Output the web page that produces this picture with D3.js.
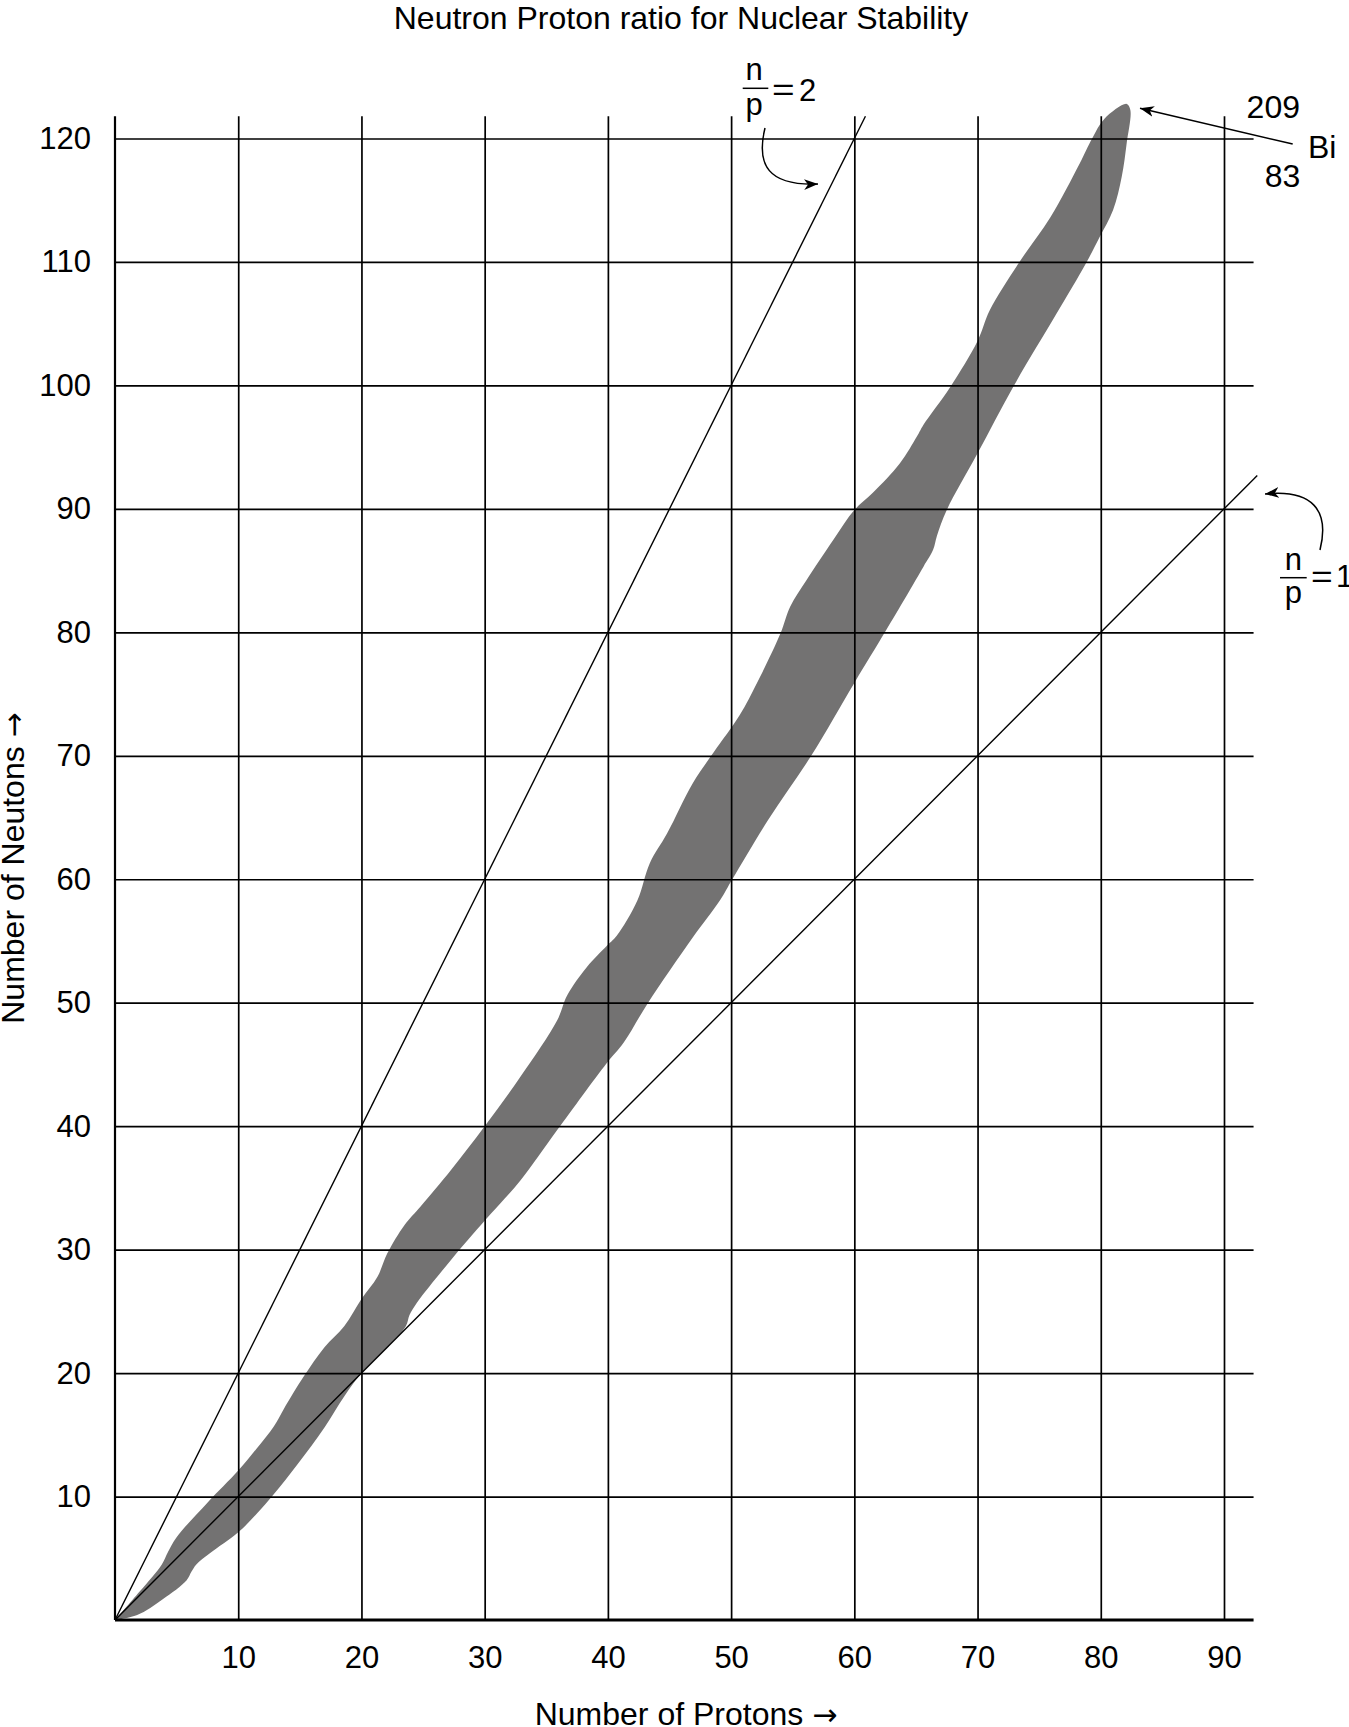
<!DOCTYPE html>
<html>
<head>
<meta charset="utf-8">
<script src="https://cdn.jsdelivr.net/npm/d3@7"></script>
<style>
  html, body { margin: 0; padding: 0; background: #fff; }
  svg { display: block; }
  text { font-family: "Liberation Sans", Arial, Helvetica, sans-serif; fill: #000; }
</style>
</head>
<body>
<script>
// ---------- data ----------
const title = "Neutron Proton ratio for Nuclear Stability";
const xLabel = "Number of Protons";
const yLabel = "Number of Neutons";
const arrowGlyph = "\u2192";
const xTicks = [10, 20, 30, 40, 50, 60, 70, 80, 90];
const yTicks = [10, 20, 30, 40, 50, 60, 70, 80, 90, 100, 110, 120];

// band of stability: neutron-rich (upper) edge, [protons, neutrons]
const bandUpper = [
  [0, 0], [2, 2.3], [3.8, 4.5], [4.3, 5.5], [5, 6.7], [7.5, 9.5], [10, 12.1],
  [11.5, 13.9], [12.9, 15.7], [13.7, 17.1], [15.3, 19.7], [17, 22.1], [18.6, 23.8],
  [20, 26.0], [21.3, 27.8], [22.1, 29.7], [23.5, 32.0], [24.8, 33.5], [27.3, 36.5],
  [30, 40], [32.9, 44], [35.9, 48.6], [36.7, 50.6], [38.3, 52.9], [39.9, 54.6],
  [40.7, 55.4], [42.4, 58.3], [43.4, 61.3], [44.8, 63.7], [46.9, 67.8], [48.6, 70.3],
  [50.7, 73.3], [52.1, 75.9], [54, 79.9], [54.8, 82.1], [56.1, 84.2], [58.3, 87.5],
  [60, 89.9], [61.5, 91.3], [63.7, 93.7], [65.1, 95.9], [65.6, 96.8], [67.8, 99.9],
  [70, 103.6], [71, 106.1], [73.4, 110], [75.9, 113.6], [78.3, 118], [79.3, 120],
  [80.3, 121.6], [82.1, 122.8]
];
// band of stability: proton-rich (lower) edge, [protons, neutrons]
const bandLower = [
  [0, 0], [1.8, 0.4], [3.9, 1.7], [5.8, 3.2], [6.2, 3.9], [6.6, 4.5], [7.7, 5.4],
  [10, 7.1], [11.5, 8.6], [12.9, 10.2], [14.8, 12.6], [17, 15.6], [18.6, 18.1],
  [20, 20], [22, 22], [23.6, 23.8], [23.9, 24.7], [24.5, 25.7], [25.5, 27],
  [27.3, 29.2], [29, 31.2], [30.5, 32.9], [32.9, 35.6], [35.9, 39.7], [39.9, 45.1],
  [41.3, 46.8], [43.2, 49.9], [46.9, 55.3], [49.1, 58.3], [50.1, 60], [53, 64.8],
  [56.5, 70], [60, 75.9], [62.6, 80.2], [65.6, 85.3], [66.4, 86.7], [66.7, 87.8],
  [67.5, 89.9], [70, 94.5], [72.9, 99.9], [76.4, 105.8], [78.8, 109.9], [79.9, 112],
  [81, 114.2], [81.7, 116.9], [82.1, 119.6], [82.4, 122.3]
];

// reference ratio lines n/p, drawn from the origin to these proton counts
const ratioLines = [
  { ratio: 2, pEnd: 60.9 },
  { ratio: 1, pEnd: 92.7 }
];

// ---------- layout ----------
const W = 1349, H = 1727;
const x = d3.scaleLinear().domain([0, 90]).range([115, 1224]);
const y = d3.scaleLinear().domain([0, 120]).range([1620, 138.5]);
const xMax = 92.4;   // extent of horizontal rules
const yMax = 121.8;  // extent of vertical rules

const svg = d3.select("body").append("svg").attr("width", W).attr("height", H);

// band
const bandPts = bandUpper.concat(bandLower.slice().reverse());
const bandLine = d3.line().x(d => x(d[0])).y(d => y(d[1])).curve(d3.curveCatmullRom.alpha(0.5));
svg.append("path").attr("d", bandLine(bandPts) + "Z").attr("fill", "#737272").attr("stroke", "none");

// grid via axes
const gx = svg.append("g").attr("transform", `translate(0,${y(0)})`)
  .call(d3.axisBottom(x).tickValues(xTicks).tickSize(-(y(0) - y(yMax))).tickPadding(26).tickFormat(d3.format("d")));
const gy = svg.append("g").attr("transform", `translate(${x(0)},0)`)
  .call(d3.axisLeft(y).tickValues(yTicks).tickSize(-(x(xMax) - x(0))).tickPadding(24).tickFormat(d3.format("d")));
[gx, gy].forEach(g => {
  g.select(".domain").remove();
  g.selectAll(".tick line").attr("stroke", "#000").attr("stroke-width", 1.7);
  g.selectAll(".tick text").attr("font-size", 31).attr("font-family", "Liberation Sans, Arial, sans-serif").attr("fill", "#000");
});

// axis lines
svg.append("line").attr("x1", x(0)).attr("x2", x(0)).attr("y1", y(yMax)).attr("y2", y(0))
  .attr("stroke", "#000").attr("stroke-width", 2.2);
svg.append("line").attr("x1", x(0)).attr("x2", x(xMax)).attr("y1", y(0)).attr("y2", y(0))
  .attr("stroke", "#000").attr("stroke-width", 2.8);

// ratio lines
svg.selectAll(".ratio").data(ratioLines).enter().append("line")
  .attr("x1", x(0)).attr("y1", y(0))
  .attr("x2", d => x(d.pEnd)).attr("y2", d => y(d.pEnd * d.ratio))
  .attr("stroke", "#000").attr("stroke-width", 1.4);

// title and axis labels
svg.append("text").attr("x", 681).attr("y", 28.5).attr("text-anchor", "middle")
  .attr("font-size", 32).text(title);
const xl = svg.append("text").attr("x", 686).attr("y", 1725).attr("text-anchor", "middle").attr("font-size", 32);
xl.append("tspan").text(xLabel + " ");
xl.append("tspan").attr("font-family", "DejaVu Sans").attr("font-size", 30).text(arrowGlyph);
const yl = svg.append("text").attr("transform", "translate(23.5,868) rotate(-90)").attr("text-anchor", "middle").attr("font-size", 32);
yl.append("tspan").text(yLabel + " ");
yl.append("tspan").attr("font-family", "DejaVu Sans").attr("font-size", 30).text(arrowGlyph);

// arrowhead marker
const defs = svg.append("defs");
defs.append("marker").attr("id", "ah").attr("viewBox", "-14 -6 16 12")
  .attr("refX", 0).attr("refY", 0).attr("markerWidth", 16).attr("markerHeight", 12)
  .attr("markerUnits", "userSpaceOnUse").attr("orient", "auto")
  .append("path").attr("d", "M0,0 L-14,-5.5 L-10,0 L-14,5.5 Z").attr("fill", "#000");

// n/p = 2 annotation
svg.append("text").attr("x", 754).attr("y", 80).attr("text-anchor", "middle").attr("font-size", 31).text("n");
svg.append("line").attr("x1", 742.7).attr("x2", 768.3).attr("y1", 88.3).attr("y2", 88.3).attr("stroke", "#000").attr("stroke-width", 1.5);
svg.append("text").attr("x", 754).attr("y", 115).attr("text-anchor", "middle").attr("font-size", 31).text("p");
svg.append("text").attr("x", 772).attr("y", 100.5).attr("font-size", 31).attr("transform", "translate(772,100.5) scale(1.25,1) translate(-772,-100.5)").text("=");
svg.append("text").attr("x", 799).attr("y", 100.5).attr("font-size", 31).text("2");
svg.append("path").attr("d", "M765,128 C756,165 768,186 818,184")
  .attr("fill", "none").attr("stroke", "#000").attr("stroke-width", 1.5).attr("marker-end", "url(#ah)");

// n/p = 1 annotation
svg.append("text").attr("x", 1293.3).attr("y", 570).attr("text-anchor", "middle").attr("font-size", 31).text("n");
svg.append("line").attr("x1", 1280).attr("x2", 1306.7).attr("y1", 577.7).attr("y2", 577.7).attr("stroke", "#000").attr("stroke-width", 1.5);
svg.append("text").attr("x", 1293.3).attr("y", 603).attr("text-anchor", "middle").attr("font-size", 31).text("p");
svg.append("text").attr("x", 1311).attr("y", 587).attr("font-size", 31).attr("transform", "translate(1311,587) scale(1.2,1) translate(-1311,-587)").text("=");
svg.append("text").attr("x", 1336).attr("y", 587).attr("font-size", 31).text("1");
svg.append("path").attr("d", "M1320,550 C1330,510 1312,489 1265,494")
  .attr("fill", "none").attr("stroke", "#000").attr("stroke-width", 1.5).attr("marker-end", "url(#ah)");

// Bi-209 annotation
svg.append("text").attr("x", 1273.3).attr("y", 118.3).attr("text-anchor", "middle").attr("font-size", 32).text("209");
svg.append("text").attr("x", 1308).attr("y", 158.3).attr("font-size", 32).text("Bi");
svg.append("text").attr("x", 1282.5).attr("y", 187.3).attr("text-anchor", "middle").attr("font-size", 32).text("83");
svg.append("line").attr("x1", 1292.7).attr("y1", 144).attr("x2", 1140).attr("y2", 108.3)
  .attr("stroke", "#000").attr("stroke-width", 1.5).attr("marker-end", "url(#ah)");
</script>
</body>
</html>
